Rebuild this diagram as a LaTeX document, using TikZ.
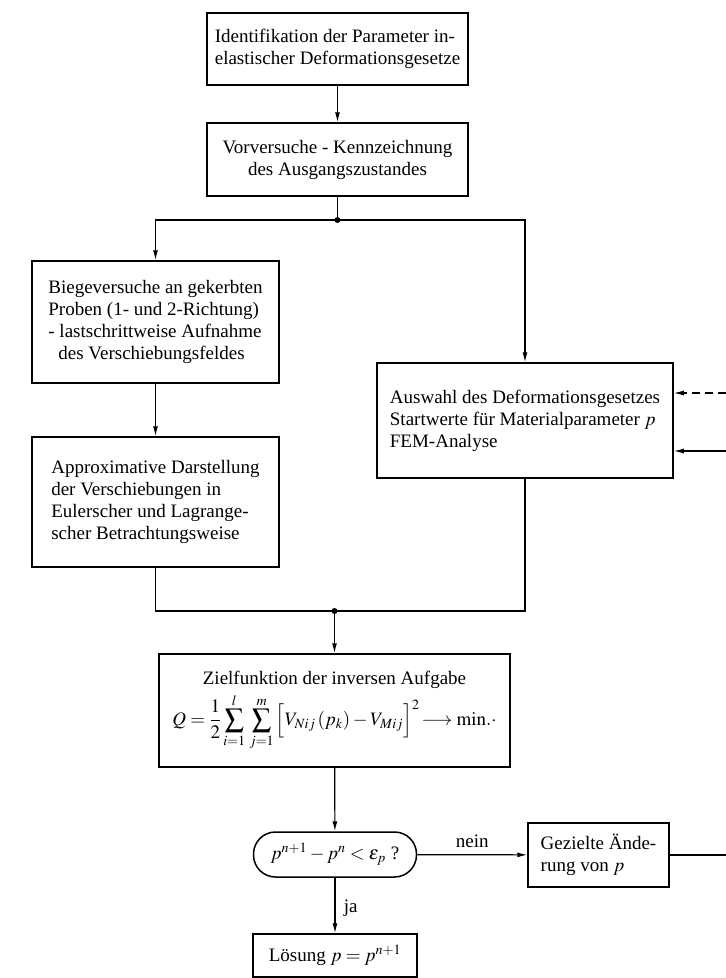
\documentclass[tikz,border=0pt]{standalone}
\usepackage{mathptmx}
\usepackage{fontspec}
\setmainfont{Liberation Serif}
\usetikzlibrary{arrows.meta}
\tikzset{
	kasten/.style={draw, line width=1.5pt, inner sep=0pt, align=left, font=\fontsize{19}{22}\selectfont},
	frage/.style={kasten, rounded corners=22pt},
	pfeil/.style={line width=1.2pt, -{Latex[length=10pt,width=5pt]}},
	linie/.style={line width=1.2pt},
	punkt/.style={circle, fill=black, inner sep=0pt, minimum size=6pt},
	beschr/.style={font=\fontsize{19}{22}\selectfont}
}

\begin{document}
\begin{tikzpicture}[x=1pt, y=-1pt]
			%%%%% START %%%%%
			\useasboundingbox (0, 0) rectangle (726, 978);
			
			\node[kasten, minimum width=261pt, minimum height=72pt] (ident) at (337.5, 49) {Identifikation der Parameter in-\\elastischer Deformationsgesetze};
			\node[kasten, align=center, minimum width=261pt, minimum height=73pt] (vorv) at (337.5, 159.5) {Vorversuche - Kennzeichnung\\des Ausgangszustandes};
			
			\node[kasten, minimum width=247pt, minimum height=122pt] (biege) at (155.5, 322) {Biegeversuche an gekerbten\\Proben (1- und 2-Richtung)\\- lastschrittweise Aufnahme\\\hspace*{10pt}des Verschiebungsfeldes};
			\node[kasten, minimum width=247pt, minimum height=130pt] (approx) at (155.5, 502) {Approximative Darstellung\\der Verschiebungen in\\Eulerscher und Lagrange-\\scher Betrachtungsweise};
			\node[kasten, minimum width=296pt, minimum height=115pt] (auswahl) at (525, 420.5) {Auswahl des Deformationsgesetzes\\Startwerte für Materialparameter $p$\\FEM-Analyse};
			
			\node[kasten, align=center, minimum width=351pt, minimum height=113pt] (ziel) at (334.5, 710.5) {Zielfunktion der inversen Aufgabe\\[4pt]
				$\displaystyle Q=\frac{1}{2}\sum_{i=1}^{l}\,\sum_{j=1}^{m}\Big[V_{Nij}\left(p_k\right)-V_{Mij}\Big]^{2}\!\longrightarrow\mathrm{min.}\cdot$};
			
			\node[frage, minimum width=163pt, minimum height=45pt] (konv) at (335, 854.5) {$p^{n+1}-p^{n}<\varepsilon_{p}$\hspace{5pt}?};
			\node[kasten, minimum width=141pt, minimum height=64pt] (aender) at (598.5, 855) {Gezielte Ände-\\rung von $p$};
			\node[kasten, minimum width=164pt, minimum height=43pt] (loesung) at (335, 955.5) {Lösung $p=p^{n+1}$};
			
			\coordinate (teil) at (337.5, 220);
			\coordinate (zus) at (334.5, 611);
			\coordinate (rechts) at (726, 855);
			\coordinate (rueckA) at (726, 393);
			\coordinate (rueckB) at (726, 451);
			
			\draw[pfeil] (ident) -- (vorv);
			\draw[linie] (vorv) -- (teil);
			\draw[pfeil] (teil) -| (biege);
			\draw[pfeil] (teil) -| (auswahl);
			\node[punkt] at (teil) {};
			
			\draw[pfeil] (biege) -- (approx);
			
			\draw[linie] (approx) |- (zus);
			\draw[linie] (auswahl) |- (zus);
			\node[punkt] at (zus) {};
			\draw[pfeil] (zus) -- (ziel);
			
			\draw[pfeil] (ziel) -- (konv);
			\draw[pfeil] (konv) -- node[beschr, above=3pt] {nein} (aender);
			\draw[pfeil] (konv) -- node[beschr, right=5pt, pos=0.55] {ja} (loesung);
			\draw[linie] (aender) -- (rechts);
			
			\draw[pfeil, dash pattern=on 8pt off 5pt] (rueckA) -- (rueckA -| auswahl.east);
			\draw[pfeil] (rueckB) -- (rueckB -| auswahl.east);
			
			%%%%% END %%%%%
\end{tikzpicture}
\end{document}
